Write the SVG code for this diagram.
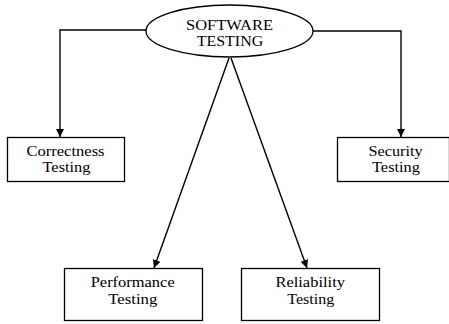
<svg xmlns="http://www.w3.org/2000/svg" width="449" height="324" viewBox="0 0 449 324">
  <defs>
    <marker id="arrow" viewBox="0 0 10 10" refX="10" refY="5" markerWidth="8" markerHeight="8" markerUnits="userSpaceOnUse" orient="auto">
      <path d="M0,0 L10,5 L0,10 Z" fill="#000"/>
    </marker>
    <style>
      .box { fill: #fff; stroke: #000; stroke-width: 1.3; }
      .edge { fill: none; stroke: #000; stroke-width: 1.4; marker-end: url(#arrow); }
      .label { font-family: "Liberation Serif", "Times New Roman", serif; font-size: 14.5px; fill: #000; text-anchor: middle; }
    </style>
  </defs>
  <rect width="449" height="324" fill="#fff"/>

  <g id="connectors">
    <path class="edge" d="M146,30 L60,30 L60,137"/>
    <path class="edge" d="M313,31 L401,31 L401,137"/>
    <path class="edge" d="M229,58 L154,268"/>
    <path class="edge" d="M231,58 L307,268"/>
  </g>

  <g id="software-testing">
    <ellipse cx="229.5" cy="31" rx="83.5" ry="26" fill="#fff" stroke="#000" stroke-width="1.3"/>
    <text class="label" x="229.5" y="30.3" textLength="87" lengthAdjust="spacingAndGlyphs">SOFTWARE</text>
    <text class="label" x="230" y="46" textLength="66.5" lengthAdjust="spacingAndGlyphs">TESTING</text>
  </g>

  <g id="correctness-testing">
    <rect class="box" x="7.5" y="137.5" width="117" height="44"/>
    <text class="label" x="65.5" y="156.3" textLength="78" lengthAdjust="spacingAndGlyphs">Correctness</text>
    <text class="label" x="66.5" y="172.3" textLength="48" lengthAdjust="spacingAndGlyphs">Testing</text>
  </g>

  <g id="security-testing">
    <rect class="box" x="337.5" y="137.5" width="112" height="44"/>
    <text class="label" x="395.5" y="156.3" textLength="54" lengthAdjust="spacingAndGlyphs">Security</text>
    <text class="label" x="396" y="172.3" textLength="48" lengthAdjust="spacingAndGlyphs">Testing</text>
  </g>

  <g id="performance-testing">
    <rect class="box" x="64.5" y="268.5" width="138" height="52"/>
    <text class="label" x="132.7" y="287.3" textLength="84" lengthAdjust="spacingAndGlyphs">Performance</text>
    <text class="label" x="132.8" y="304.3" textLength="49" lengthAdjust="spacingAndGlyphs">Testing</text>
  </g>

  <g id="reliability-testing">
    <rect class="box" x="241.5" y="268.5" width="138" height="52"/>
    <text class="label" x="310.2" y="287.3" textLength="69.5" lengthAdjust="spacingAndGlyphs">Reliability</text>
    <text class="label" x="310.8" y="304.3" textLength="47" lengthAdjust="spacingAndGlyphs">Testing</text>
  </g>
</svg>
